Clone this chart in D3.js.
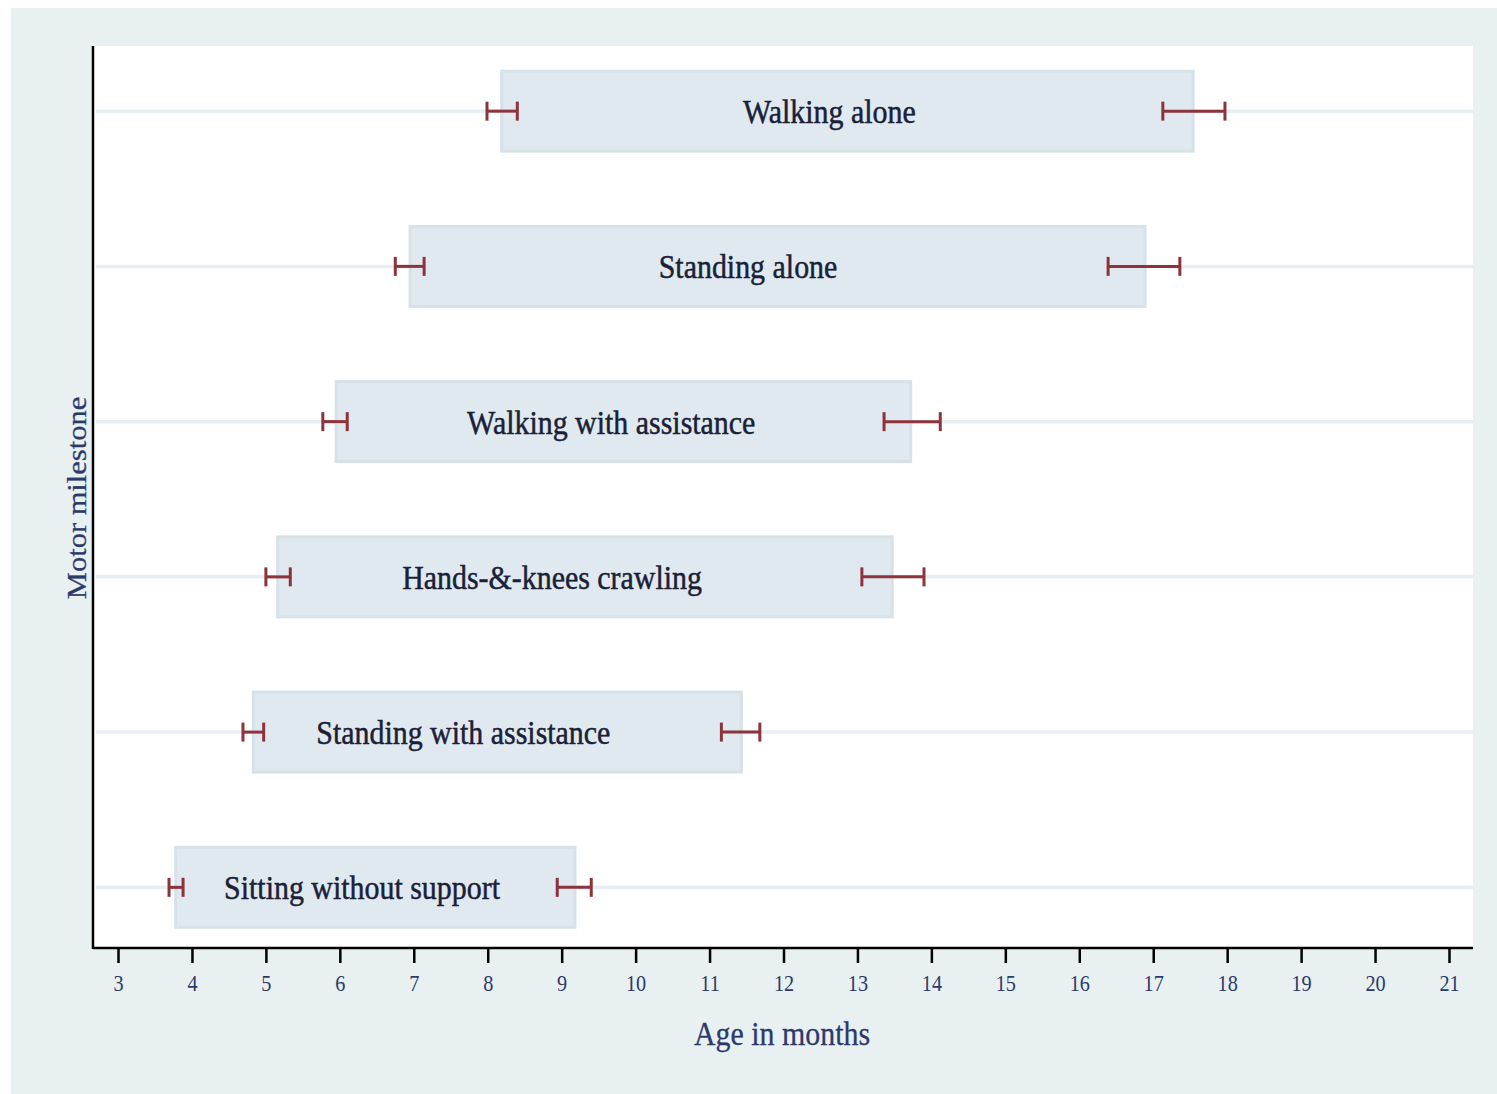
<!DOCTYPE html>
<html>
<head>
<meta charset="utf-8">
<script src="https://cdn.jsdelivr.net/npm/d3@7"></script>
<style>
  html, body { margin: 0; padding: 0; background: #ffffff; }
  svg { display: block; }
</style>
</head>
<body>
<svg id="chart" width="1497" height="1094"></svg>
<script>
// ---- data (top to bottom) ----
const milestones = ["Walking alone", "Standing alone", "Walking with assistance",
  "Hands-&-knees crawling", "Standing with assistance", "Sitting without support"];
const barStart = [8.19, 6.95, 5.95, 5.16, 4.83, 3.78];
const barEnd   = [17.54, 16.89, 13.72, 13.47, 11.43, 9.18];
const startCILow  = [7.99, 6.75, 5.77, 5.00, 4.69, 3.69];
const startCIHigh = [8.40, 7.14, 6.10, 5.33, 4.97, 3.88];
const endCILow    = [17.13, 16.39, 13.36, 13.06, 11.16, 8.94];
const endCIHigh   = [17.97, 17.36, 14.12, 13.90, 11.68, 9.40];
const labelPos    = [12.62, 11.52, 9.67, 8.87, 7.67, 6.30];
const xTicks = d3.range(3, 22);
const xTitle = "Age in months";
const yTitle = "Motor milestone";

const rows = milestones.map((m, i) => ({
  name: m, s: barStart[i], e: barEnd[i],
  sl: startCILow[i], sh: startCIHigh[i], el: endCILow[i], eh: endCIHigh[i], lp: labelPos[i]
}));

const svg = d3.select("#chart");
const W = 1497, H = 1094;
const plot = { left: 94, right: 1473, top: 46, bottom: 948 };
const SX = 0.88; // horizontal squash of glyphs
const serif = "'Liberation Serif', 'Times New Roman', serif";

// outer background
svg.append("rect").attr("x", 11).attr("y", 8).attr("width", W - 11).attr("height", H - 8)
  .attr("fill", "#e8f0f2");
// plot region
svg.append("rect").attr("x", plot.left).attr("y", plot.top)
  .attr("width", plot.right - plot.left).attr("height", plot.bottom - plot.top)
  .attr("fill", "#ffffff");

const x = d3.scaleLinear().domain([3, 21]).range([118, 1449]);
const y = d3.scalePoint().domain(milestones).range([plot.top + 1.5, plot.bottom + 3]).padding(0.41);
const barH = y.step() * 0.515;

// gridlines
svg.append("g").selectAll("line").data(rows).join("line")
  .attr("x1", plot.left + 2).attr("x2", plot.right)
  .attr("y1", d => y(d.name)).attr("y2", d => y(d.name))
  .attr("stroke", "#e8eff2").attr("stroke-width", 3.5);

// bars
svg.append("g").selectAll("rect").data(rows).join("rect")
  .attr("x", d => x(d.s)).attr("width", d => x(d.e) - x(d.s))
  .attr("y", d => y(d.name) - barH / 2).attr("height", barH)
  .attr("fill", "#e0e9ef").attr("stroke", "#d6e2e8").attr("stroke-width", 3);

// labels
svg.append("g").selectAll("text").data(rows).join("text")
  .attr("transform", d => `translate(${x(d.lp)},${y(d.name) + 12}) scale(${SX},1)`)
  .attr("text-anchor", "middle")
  .attr("font-family", serif)
  .attr("font-size", 34)
  .attr("fill", "#1b1f38")
  .attr("stroke", "#1b1f38").attr("stroke-width", 0.5)
  .text(d => d.name);

// error bars
const ebColor = "#8e323c", capH = 19;
const eb = svg.append("g").attr("stroke", ebColor).attr("stroke-width", 3).attr("fill", "none");
function drawEB(lo, hi) {
  eb.selectAll(null).data(rows).join("line")
    .attr("x1", d => x(d[lo])).attr("x2", d => x(d[hi]))
    .attr("y1", d => y(d.name)).attr("y2", d => y(d.name));
  [lo, hi].forEach(k => {
    eb.selectAll(null).data(rows).join("line")
      .attr("x1", d => x(d[k])).attr("x2", d => x(d[k]))
      .attr("y1", d => y(d.name) - capH / 2).attr("y2", d => y(d.name) + capH / 2);
  });
}
drawEB("sl", "sh");
drawEB("el", "eh");

// x axis
const xAxis = d3.axisBottom(x).tickValues(xTicks).tickSize(15).tickPadding(12).tickSizeOuter(0);
const gx = svg.append("g").attr("transform", `translate(0,${plot.bottom})`).call(xAxis);
gx.select(".domain").remove();
gx.selectAll(".tick line").attr("stroke", "#000").attr("stroke-width", 2.5);
gx.selectAll(".tick text")
  .attr("font-family", serif)
  .attr("font-size", 23).attr("fill", "#2c3a6a")
  .attr("transform", `scale(${SX},1)`);
// axis lines
svg.append("line").attr("x1", plot.left - 1).attr("x2", plot.right)
  .attr("y1", plot.bottom).attr("y2", plot.bottom).attr("stroke", "#000").attr("stroke-width", 2.5);
svg.append("line").attr("x1", plot.left - 1).attr("x2", plot.left - 1)
  .attr("y1", plot.top).attr("y2", plot.bottom + 1).attr("stroke", "#000").attr("stroke-width", 2.5);

// titles
svg.append("text")
  .attr("transform", `translate(782,1045) scale(${SX},1)`)
  .attr("text-anchor", "middle")
  .attr("font-family", serif)
  .attr("font-size", 34).attr("fill", "#2c3a6a")
  .attr("stroke", "#2c3a6a").attr("stroke-width", 0.3)
  .text(xTitle);
svg.append("text")
  .attr("transform", `translate(86,498) rotate(-90) scale(1,${SX})`)
  .attr("text-anchor", "middle")
  .attr("font-family", serif)
  .attr("font-size", 30.5).attr("fill", "#2c3a6a")
  .attr("stroke", "#2c3a6a").attr("stroke-width", 0.3)
  .text(yTitle);
</script>
</body>
</html>
